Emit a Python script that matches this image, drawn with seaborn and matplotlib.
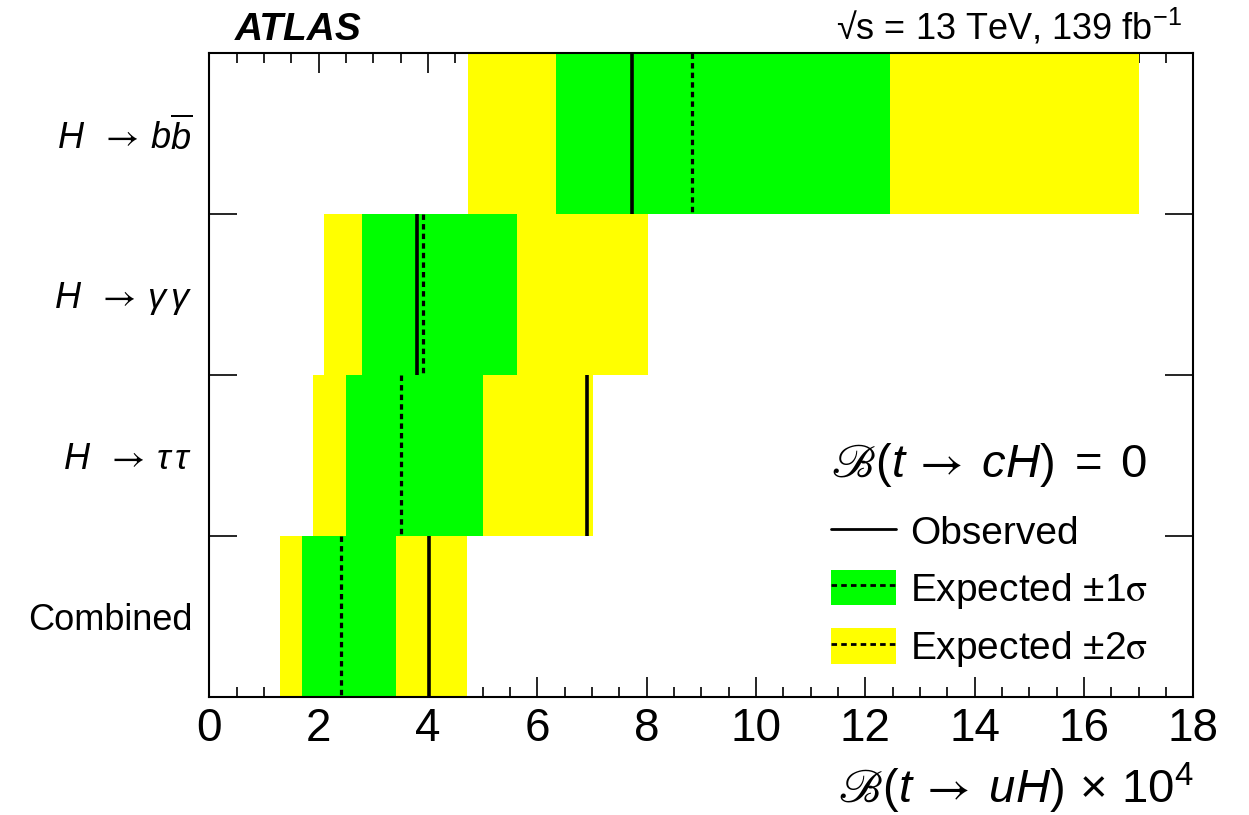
import numpy as np
import pandas as pd
import matplotlib
matplotlib.use("Agg")
import matplotlib.pyplot as plt
from matplotlib.lines import Line2D
from matplotlib.patches import Patch
from matplotlib.ticker import MultipleLocator
import seaborn as sns

# Upper limits on B(t -> uH) x 10^4, per channel (95% CL)
ARROW = r"\mathsf{\rightarrow}"
channels = [r"$H\;\;" + ARROW + r"\,b\overline{b}$",
            r"$H\;\;" + ARROW + r"\,\gamma\,\gamma$",
            r"$H\;\;" + ARROW + r"\,\tau\,\tau$",
            "Combined"]
observed = [7.74, 3.80, 6.91, 4.01]
expected = [8.83, 3.90, 3.50, 2.40]
minus2s = [4.73, 2.09, 1.90, 1.29]
minus1s = [6.35, 2.80, 2.50, 1.69]
plus1s = [12.45, 5.62, 5.01, 3.41]
plus2s = [17.01, 8.02, 7.02, 4.72]

x_ticks = [0, 2, 4, 6, 8, 10, 12, 14, 16, 18]

YELLOW = "#ffff00"
GREEN = "#00ff00"

sns.set_theme(style="ticks")
plt.rcParams["font.family"] = ["Liberation Sans", "DejaVu Sans", "STIXGeneral"]
plt.rcParams["mathtext.fontset"] = "custom"
plt.rcParams["mathtext.rm"] = "Liberation Sans"
plt.rcParams["mathtext.it"] = "Liberation Sans:italic"
plt.rcParams["mathtext.bf"] = "Liberation Sans:bold"
plt.rcParams["mathtext.sf"] = "STIXGeneral"
plt.rcParams["mathtext.fallback"] = "stix"
plt.rcParams["axes.linewidth"] = 1.5
for key in ["text.color", "axes.labelcolor", "xtick.color", "ytick.color",
            "axes.edgecolor", "xtick.labelcolor", "ytick.labelcolor"]:
    plt.rcParams[key] = "black"

df = pd.DataFrame({
    "channel": channels,
    "obs": observed,
    "exp": expected,
    "m2": minus2s, "m1": minus1s, "p1": plus1s, "p2": plus2s,
})
df["w2"] = df["p2"] - df["m2"]
df["w1"] = df["p1"] - df["m1"]

fig = plt.figure(figsize=(12.49, 8.15), dpi=100)
ax = fig.add_axes([0.16758, 0.14479, 0.78783, 0.79018])

# +-2 sigma bands, then +-1 sigma bands, each shifted to start at its lower edge
sns.barplot(data=df, x="w2", y="channel", orient="h", color=YELLOW,
            saturation=1, width=1.0, ax=ax, linewidth=0)
n_first = len(ax.patches)
for patch, lo in zip(ax.patches[:n_first], df["m2"]):
    patch.set_x(lo)
sns.barplot(data=df, x="w1", y="channel", orient="h", color=GREEN,
            saturation=1, width=1.0, ax=ax, linewidth=0)
for patch, lo in zip(ax.patches[n_first:], df["m1"]):
    patch.set_x(lo)

rows = np.arange(len(channels))
ax.vlines(df["exp"], rows - 0.5, rows + 0.5, colors="black", lw=2.3,
          linestyles=(0, (1.7, 1.3)), zorder=4)
ax.vlines(df["obs"], rows - 0.5, rows + 0.5, colors="black", lw=2.6, zorder=5)

ax.set_xlim(0, 18)
ax.set_ylim(3.5, -0.5)

# x axis: ticks on both sides pointing inward
ax.set_xticks(x_ticks)
ax.xaxis.set_minor_locator(MultipleLocator(0.5))
ax.tick_params(axis="x", which="major", direction="in", length=14.4, width=1.2,
               top=True, bottom=True, labelsize=33, pad=7)
ax.tick_params(axis="x", which="minor", direction="in", length=7.2, width=1.2,
               top=True, bottom=True)

# y axis: long ticks at row boundaries, labels at row centres
ax.set_yticks(rows[:-1] + 0.5)
ax.set_yticklabels([])
ax.set_yticks(rows, minor=True)
ax.set_yticklabels(channels, minor=True)
ax.tick_params(axis="y", which="major", direction="in", length=20, width=1.2,
               left=True, right=True)
ax.tick_params(axis="y", which="minor", length=0, labelsize=26, pad=12)
for lbl in ax.get_yticklabels(minor=True):
    lbl.set_verticalalignment("center_baseline")
for spine in ax.spines.values():
    spine.set_visible(True)
    spine.set_color("black")

ax.set_xlabel(r"$\mathscr{B}(t\," + ARROW + r"\;uH)\,\times\,10^4$",
              fontsize=34, ha="right")
ax.xaxis.set_label_coords(1.0, -0.10)
ax.set_ylabel("")

fig.text(0.188, 0.951, "ATLAS", fontsize=28, fontweight="bold",
         fontstyle="italic", ha="left", va="baseline")
fig.text(0.946, 0.951, r"√s = 13 TeV, 139 fb$^{-1}$",
         fontsize=26, ha="right", va="baseline")

handles = [
    Line2D([], [], color="black", lw=2),
    (Patch(facecolor=GREEN, edgecolor="none"),
     Line2D([], [], color="black", lw=2, linestyle=(0, (2, 1.5)))),
    (Patch(facecolor=YELLOW, edgecolor="none"),
     Line2D([], [], color="black", lw=2, linestyle=(0, (2, 1.5)))),
]
labels = ["Observed",
          r"Expected $\pm$1$\mathsf{\sigma}$",
          r"Expected $\pm$2$\mathsf{\sigma}$"]
leg = ax.legend(handles, labels,
                title=r"$\mathscr{B}(t\," + ARROW + r"\;cH)\;=\;0$",
                title_fontsize=34, fontsize=28, frameon=False,
                loc="upper left", bbox_to_anchor=(0.632, 0.398),
                borderpad=0, borderaxespad=0, handlelength=1.67,
                handleheight=1.03, handletextpad=0.36, labelspacing=0.45,
                alignment="left")
# a little extra room between the title and the entries
leg._legend_box.sep = leg._legend_box.sep + 5

fig.savefig("out.png", dpi=100)
